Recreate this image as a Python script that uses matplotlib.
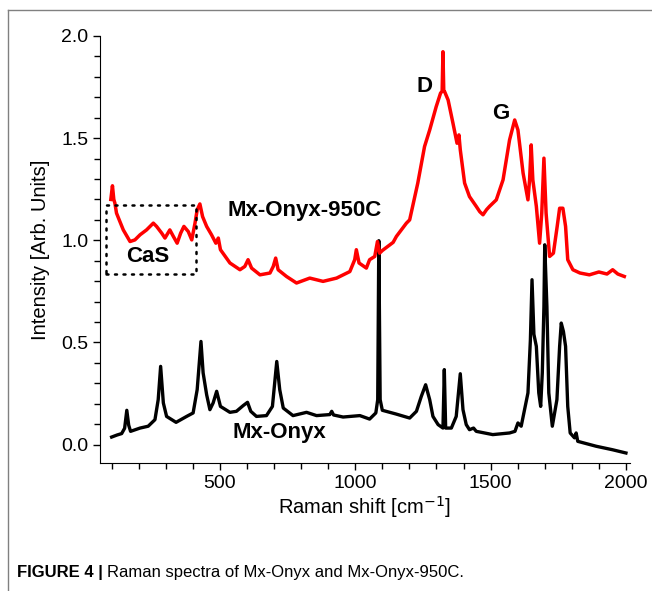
import matplotlib
matplotlib.use("Agg")
import matplotlib.pyplot as plt
from matplotlib.lines import Line2D
from matplotlib.ticker import MultipleLocator

plt.rcParams['font.family'] = ['Liberation Sans', 'DejaVu Sans']

# Mx-Onyx (black) spectrum
onyx_x = [100, 120, 137, 148, 156, 163, 170, 205, 235, 260, 272, 281, 291, 303, 338,
          377, 401, 416, 430, 438, 451, 463, 475, 488, 502, 537, 561, 586, 602, 614,
          635, 672, 694, 710, 721, 734, 770, 820, 857, 906, 913, 920, 955, 1017, 1053,
          1076, 1083, 1087, 1092, 1100, 1150, 1201, 1226, 1244, 1260, 1275, 1287, 1306,
          1324, 1329, 1334, 1355, 1373, 1388, 1398, 1410, 1422, 1437, 1447, 1508, 1570,
          1590, 1601, 1613, 1638, 1647, 1653, 1660, 1669, 1678, 1685, 1691, 1697, 1700,
          1708, 1715, 1728, 1745, 1755, 1761, 1769, 1777, 1785, 1794, 1810, 1816, 1822,
          1890, 1950, 2000]
onyx_y = [0.037, 0.047, 0.054, 0.080, 0.168, 0.095, 0.065, 0.081, 0.090, 0.122, 0.220,
          0.383, 0.204, 0.138, 0.109, 0.138, 0.155, 0.269, 0.505, 0.351, 0.244, 0.171,
          0.204, 0.261, 0.187, 0.158, 0.163, 0.191, 0.207, 0.163, 0.138, 0.142, 0.187,
          0.407, 0.269, 0.179, 0.142, 0.158, 0.142, 0.147, 0.163, 0.145, 0.135, 0.142,
          0.125, 0.155, 0.220, 0.998, 0.220, 0.168, 0.150, 0.130, 0.163, 0.236, 0.293,
          0.220, 0.138, 0.098, 0.081, 0.367, 0.081, 0.081, 0.138, 0.347, 0.171, 0.098,
          0.073, 0.081, 0.065, 0.049, 0.057, 0.065, 0.106, 0.090, 0.253, 0.513, 0.807,
          0.540, 0.481, 0.253, 0.187, 0.351, 0.676, 0.978, 0.676, 0.253, 0.090, 0.220,
          0.481, 0.595, 0.554, 0.481, 0.187, 0.057, 0.033, 0.057, 0.016, -0.008, -0.025,
          -0.041]

# Mx-Onyx-950C (red) spectrum
c950_x = [97, 103, 108, 112, 118, 128, 143, 168, 186, 205, 229, 254, 266, 285, 297, 315,
          328, 342, 355, 367, 383, 396, 408, 416, 426, 436, 451, 469, 485, 494, 502, 537,
          574, 592, 604, 617, 648, 685, 697, 706, 715, 746, 783, 832, 881, 931, 980, 998,
          1004, 1014, 1041, 1053, 1072, 1082, 1090, 1100, 1140, 1152, 1189, 1201, 1231,
          1256, 1275, 1299, 1315, 1321, 1324, 1327, 1330, 1343, 1361, 1376, 1383, 1388,
          1404, 1422, 1447, 1460, 1472, 1485, 1496, 1521, 1546, 1570, 1589, 1601, 1620,
          1638, 1644, 1650, 1656, 1669, 1681, 1689, 1697, 1705, 1718, 1732, 1746, 1755,
          1767, 1777, 1785, 1804, 1830, 1865, 1900, 1930, 1951, 1970, 1994]
c950_y = [1.200, 1.267, 1.200, 1.182, 1.133, 1.100, 1.051, 0.994, 1.002, 1.027, 1.051,
          1.084, 1.068, 1.035, 1.011, 1.051, 1.019, 0.986, 1.035, 1.068, 1.043, 1.002,
          1.084, 1.149, 1.178, 1.116, 1.068, 1.027, 0.986, 1.011, 0.954, 0.889, 0.856,
          0.872, 0.905, 0.864, 0.831, 0.840, 0.872, 0.913, 0.856, 0.823, 0.791, 0.815,
          0.799, 0.815, 0.847, 0.905, 0.954, 0.889, 0.864, 0.905, 0.921, 0.994, 0.937,
          0.950, 0.990, 1.019, 1.084, 1.100, 1.280, 1.459, 1.540, 1.654, 1.720, 1.730,
          1.923, 1.730, 1.728, 1.687, 1.573, 1.475, 1.516, 1.443, 1.280, 1.214, 1.166,
          1.140, 1.125, 1.150, 1.166, 1.198, 1.296, 1.491, 1.589, 1.540, 1.329, 1.198,
          1.296, 1.467, 1.296, 1.166, 0.986, 1.133, 1.402, 1.133, 0.921, 0.937, 1.068,
          1.157, 1.157, 1.068, 0.905, 0.856, 0.840, 0.831, 0.845, 0.835, 0.856, 0.835,
          0.823]

# CaS box corners (x range, y range) and annotations
cas_box_x = [81, 411]
cas_box_y = [0.836, 1.174]
labels = ["Mx-Onyx-950C", "CaS", "Mx-Onyx", "D", "G"]
label_x = [814, 234, 721, 1256, 1539]
label_y = [1.145, 0.921, 0.057, 1.752, 1.622]

fig = plt.figure(figsize=(6.52, 5.91), dpi=100)
ax = fig.add_axes([100 / 652, 1 - 463 / 591, 530 / 652, 427 / 591])

ax.plot(onyx_x, onyx_y, color='black', lw=2.4, solid_joinstyle='round')
ax.plot(c950_x, c950_y, color='#ff0000', lw=2.5, solid_joinstyle='round')

bx = [cas_box_x[0], cas_box_x[1], cas_box_x[1], cas_box_x[0], cas_box_x[0]]
by = [cas_box_y[0], cas_box_y[0], cas_box_y[1], cas_box_y[1], cas_box_y[0]]
ax.plot(bx, by, color='black', lw=1.8, linestyle=(0, (0.8, 2.6)), dash_capstyle='round')

for t, x, y in zip(labels, label_x, label_y):
    ax.text(x, y, t, ha='center', va='center', fontsize=16, fontweight='bold')

ax.set_xlim(57, 2015)
ax.set_ylim(-0.09, 2.0)
ax.xaxis.set_major_locator(MultipleLocator(500))
ax.xaxis.set_minor_locator(MultipleLocator(100))
ax.yaxis.set_major_locator(MultipleLocator(0.5))
ax.yaxis.set_minor_locator(MultipleLocator(0.1))
ax.tick_params(which='major', direction='out', length=5, width=1, labelsize=14)
ax.tick_params(which='minor', direction='out', length=4, width=1)
ax.spines['top'].set_visible(False)
ax.spines['right'].set_visible(False)
ax.set_xticks([500, 1000, 1500, 2000])
ax.set_yticks([0.0, 0.5, 1.0, 1.5, 2.0])
ax.set_yticklabels(['0.0', '0.5', '1.0', '1.5', '2.0'])

ax.set_xlabel('Raman shift [cm$^{-1}$]', fontsize=14.5, labelpad=2)
ax.set_ylabel('Intensity [Arb. Units]', fontsize=14.5, labelpad=8)

# journal frame lines
fig.add_artist(Line2D([8 / 652, 1.0], [1 - 10 / 591, 1 - 10 / 591],
                      transform=fig.transFigure, color='#808080', lw=1))
fig.add_artist(Line2D([8 / 652, 8 / 652], [0.0, 1 - 10 / 591],
                      transform=fig.transFigure, color='#808080', lw=1))

# caption
cap_font = ['Liberation Sans Narrow', 'Liberation Sans', 'DejaVu Sans']
t1 = fig.text(17 / 652, 1 - 572 / 591, 'FIGURE 4 |', fontsize=12, fontweight='bold',
              family=cap_font, va='center', ha='left')
fig.canvas.draw()
bb = t1.get_window_extent()
fig.text((bb.x1 + 4) / 652, 1 - 572 / 591, 'Raman spectra of Mx-Onyx and Mx-Onyx-950C.',
         fontsize=12, family=cap_font, va='center', ha='left')

fig.savefig('out.png', dpi=100)
